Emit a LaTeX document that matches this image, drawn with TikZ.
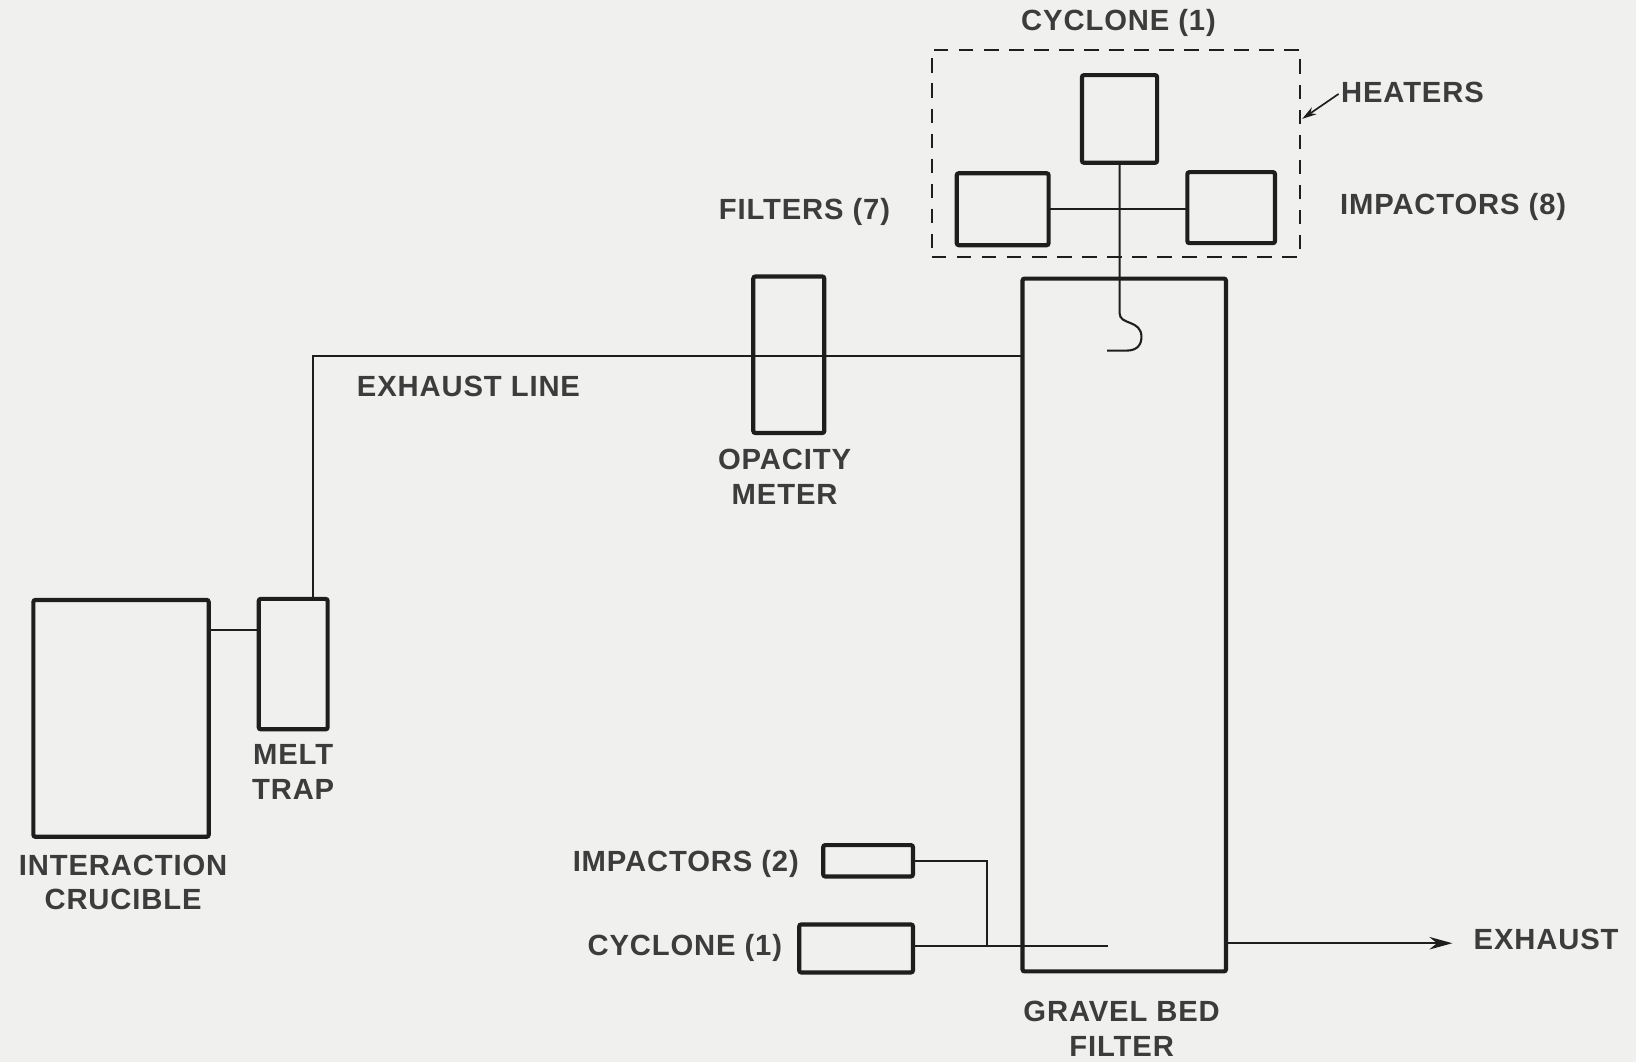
\documentclass[tikz,border=0pt]{standalone}
\usepackage{fontspec}
\setmainfont{Liberation Sans}[LetterSpace=3]
\usetikzlibrary{arrows.meta}
\definecolor{bgc}{RGB}{240,240,238}
\definecolor{inkc}{RGB}{30,30,30}
\definecolor{txtc}{RGB}{60,60,60}
\tikzset{
  boxst/.style={draw=inkc, line width=2pt, rounded corners=1pt, inner sep=0pt, outer sep=0pt},
  pipe/.style={draw=inkc, line width=1pt},
  lbl/.style={text=txtc, font=\fontsize{14}{16.5}\selectfont\bfseries, inner sep=0pt, align=center},
}
\newcommand\mkbox[5]{\node[boxst, minimum width=#4*0.5pt, minimum height=#5*0.5pt] (#1) at (#2,#3) {};}
\begin{document}
\begin{tikzpicture}[x=0.5pt,y=-0.5pt]
\fill[bgc] (0,0) rectangle (1568,1018);
\useasboundingbox (0,0) rectangle (1568,1018);
% boxes
\mkbox{cyctop}{1073}{114}{72}{84}
\mkbox{filt}{961}{200.5}{88}{69}
\mkbox{imp8}{1180}{199}{84}{68}
\mkbox{gravel}{1077.5}{599}{195}{664}
\mkbox{opac}{756}{340}{68}{150}
\mkbox{cruc}{116}{688.5}{168}{227}
\mkbox{melt}{281}{636.5}{66}{125}
\mkbox{imp2}{832}{825}{86}{30}
\mkbox{cycbot}{820.5}{909}{109}{46}
\node[draw=inkc, line width=1pt, dash pattern=on 7pt off 5pt, minimum width=353*0.5pt, minimum height=198*0.5pt, inner sep=0pt] (heat) at (1069.5,147) {};
% coordinates
\coordinate (j1) at (224,604);
\coordinate (p1) at (300,341);
\coordinate (hk) at (1073,300);
\coordinate (hkend) at (1061,336);
\coordinate (fi) at (1070,200);
\coordinate (b1) at (946,825);
\coordinate (b2) at (946,907);
\coordinate (b3) at (1062,907);
\coordinate (ex1) at (1176,904);
\coordinate (ex2) at (1392,904);
\coordinate (ha1) at (1283,90);
\coordinate (ha2) at (1248,114);
% connectors
\draw[pipe] (j1 -| cruc.east) -- (j1 -| melt.west);
\draw[pipe] (p1 |- melt.north) -- (p1) -- (p1 -| gravel.west);
\draw[pipe] (cyctop.south) -- (hk) .. controls (1073,312) and (1094,306) .. (1094,323) .. controls (1094,332) and (1088,336) .. (1080,336) -- (hkend);
\draw[pipe] (fi -| filt.east) -- (fi -| imp8.west);
\draw[pipe] (imp2.east) -- (b1) -- (b2);
\draw[pipe] (cycbot.east |- b3) -- (b3);
\draw[pipe, -{Stealth[length=11pt,width=6pt]}] (ex1) -- (ex2);
\draw[pipe, line width=0.8pt, -{Stealth[length=7pt,width=4pt]}] (ha1) -- (ha2);
% labels
\node[lbl] (tcyc) at (1072,22) {CYCLONE (1)};
\node[lbl, anchor=west] (theat) at (1285,89) {HEATERS};
\node[lbl] (tfilt) at (771,203) {FILTERS (7)};
\node[lbl, anchor=west] (timp8) at (1284,198) {IMPACTORS (8)};
\node[lbl] (texl) at (449,370) {EXHAUST LINE};
\node[lbl] (topac) at (752,457) {OPACITY\\METER};
\node[lbl] (tmelt) at (281,740) {MELT\\TRAP};
\node[lbl] (tcruc) at (118,846) {INTERACTION\\CRUCIBLE};
\node[lbl, anchor=east] (timp2) at (766,828) {IMPACTORS (2)};
\node[lbl, anchor=east] (tcycb) at (750,909) {CYCLONE (1)};
\node[lbl, anchor=west] (texh) at (1412,900) {EXHAUST};
\node[lbl] (tgrav) at (1075,986) {GRAVEL BED\\FILTER};
\end{tikzpicture}
\end{document}
